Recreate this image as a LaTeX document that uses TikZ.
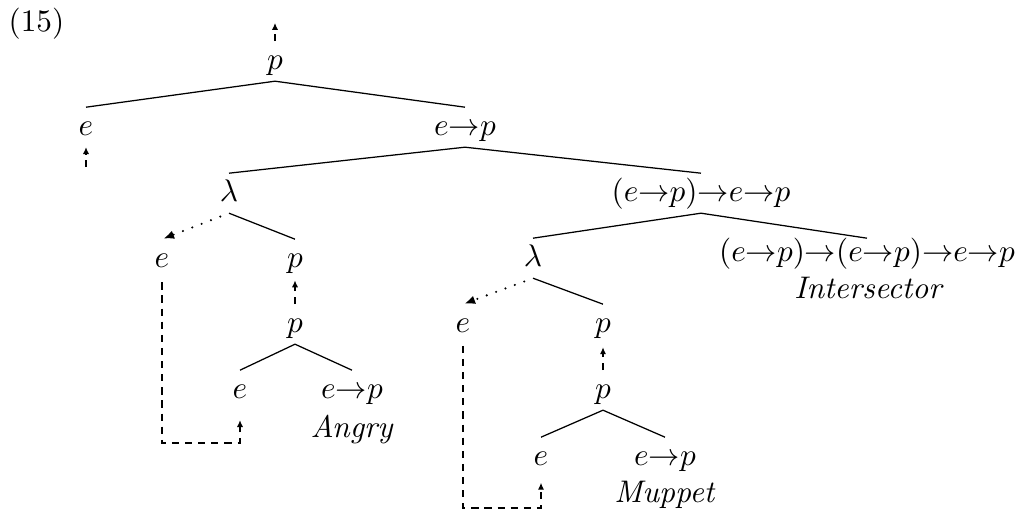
\documentclass[tikz,border=0pt]{standalone}
\usetikzlibrary{arrows.meta}

\tikzset{
  tn/.style={inner sep=0pt, text height=8.7pt, text depth=3.7pt, anchor=base},
  word/.style={inner sep=0pt, anchor=base},
  edge/.style={line width=0.4pt},
  raise/.style={line width=0.36pt, dash pattern=on 2.3pt off 1.9pt,
                -{Latex[length=2.2pt,width=2pt]}},
  bindarrow/.style={line width=0.75pt, line cap=round, dash pattern=on 0pt off 3.2pt,
                -{Latex[length=3.4pt,width=2.8pt,line cap=butt]}, shorten <=3pt, shorten >=0.5pt},
}

\begin{document}
\begin{tikzpicture}[x=0.32pt, y=-0.32pt]
\useasboundingbox (0,0) rectangle (1020,514);

% example number
\node[word, anchor=base west] (num) at (8,31) {(15)};

% root and first split
\node[tn] (p0) at (275,69) {$p$};
\coordinate (p0up) at (275,23);
\node[tn] (e1) at (86,135) {$e$};
\coordinate (e1dn) at (86,167);
\node[tn] (t1) at (465,135) {$e{\rightarrow}p$};

% left lambda subtree
\node[tn] (lam1) at (229,201) {$\lambda$};
\node[tn] (e3) at (162,267) {$e$};
\node[tn] (p3) at (295,267) {$p$};
\node[tn] (p4) at (295,332) {$p$};
\node[tn] (e5) at (240,398) {$e$};
\node[tn] (t5) at (352,398) {$e{\rightarrow}p$};
\node[word] (angry) at (352,437) {\textit{Angry}};
\coordinate (bendL) at (162,443);

% right branch
\node[tn] (t2) at (701,201) {$(e{\rightarrow}p){\rightarrow}e{\rightarrow}p$};
\node[tn] (lam2) at (533,266) {$\lambda$};
\node[tn, text height=7.1pt] (t3) at (867,261)
  {$(e{\rightarrow}p){\rightarrow}(e{\rightarrow}p){\rightarrow}e{\rightarrow}p$};
\node[word] (inter) at (869,298) {\textit{Intersector}};

% right lambda subtree
\node[tn] (e4) at (463,332) {$e$};
\node[tn] (q4) at (603,332) {$p$};
\node[tn] (q5) at (603,398) {$p$};
\node[tn] (e6) at (541,465) {$e$};
\node[tn] (t6) at (665,465) {$e{\rightarrow}p$};
\node[word] (muppet) at (665,502) {\textit{Muppet}};
\coordinate (bendR) at (463,508);

% tree edges
\draw[edge] (p0.south) -- (e1.north);
\draw[edge] (p0.south) -- (t1.north);
\draw[edge] (t1.south) -- (lam1.north);
\draw[edge] (t1.south) -- (t2.north);
\draw[edge] (lam1.south) -- (p3.north);
\draw[edge] (p4.south) -- (e5.north);
\draw[edge] (p4.south) -- (t5.north);
\draw[edge] (t2.south) -- (lam2.north);
\draw[edge] (t2.south) -- (t3.north);
\draw[edge] (lam2.south) -- (q4.north);
\draw[edge] (q5.south) -- (e6.north);
\draw[edge] (q5.south) -- (t6.north);

% lambda binders
\draw[bindarrow] (lam1.south) -- (e3.north);
\draw[bindarrow] (lam2.south) -- (e4.north);

% type raising steps
\draw[raise] (p0.north) -- (p0up);
\draw[raise] (e1dn) -- (e1.south);
\draw[raise, shorten >=0.4pt] (p4.north) -- (p3.south);
\draw[raise, shorten >=1pt] (q5.north) -- (q4.south);

% variable links
\draw[raise, shorten <=1pt] (e3.south) -- (e3.south |- bendL) -| ([yshift=-3.2pt]e5.south);
\draw[raise, shorten <=0.5pt] (e4.south) -- (e4.south |- bendR) -| ([yshift=-1.8pt]e6.south);
\end{tikzpicture}
\end{document}
